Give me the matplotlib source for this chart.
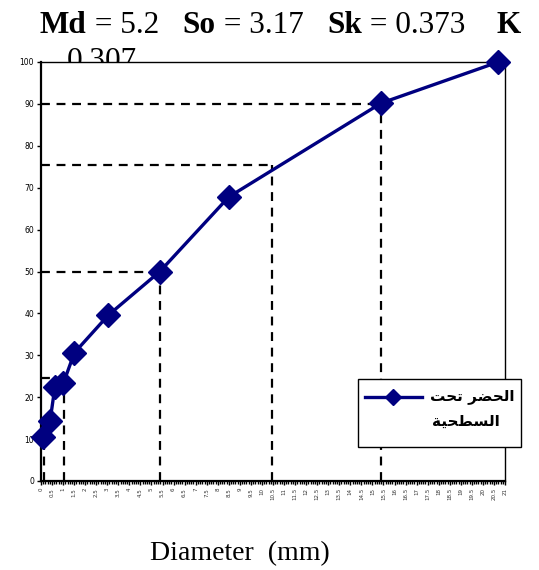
import numpy as np
import matplotlib
matplotlib.use("Agg")
import matplotlib.pyplot as plt
from matplotlib.ticker import MultipleLocator
from matplotlib.patches import Rectangle
from matplotlib.lines import Line2D
from matplotlib.transforms import Bbox, TransformedBbox

# cumulative grain size curve
diam = [0.10, 0.41, 0.63, 1.01, 1.51, 3.05, 5.38, 8.50, 15.40, 20.70]
cum_pct = [10.6, 14.3, 22.5, 23.3, 30.6, 39.6, 50.0, 67.8, 90.2, 100.0]

# percentile read-off lines (percent, diameter)
ref_pct = [24.5, 50.0, 75.5, 90.0]
ref_diam = [1.05, 5.38, 10.45, 15.40]
low_diam = 0.15
low_pct = 10.0

# legend label (Arabic, visual order with presentation forms)
line1 = "\uFE96\uFEA4\uFE97 \uFEAE\uFEC0\uFEA4\uFEDF\uFE8D"
line2 = "\uFE94\uFEF4\uFEA4\uFEC4\uFEB4\uFEDF\uFE8D"

W, H = 539, 570
fig = plt.figure(figsize=(W / 100, H / 100), dpi=100)
ax = fig.add_axes([41 / W, 1 - 481 / H, (505 - 41) / W, (481 - 62) / H])
ax.set_zorder(2)
ax.set_facecolor("white")

navy = "#000080"
dash = (0, (4, 3))
for p, d in zip(ref_pct, ref_diam):
    ax.plot([0, d], [p, p], color="black", lw=1.6, ls=dash, zorder=2)
    ax.plot([d, d], [0, p], color="black", lw=1.6, ls=dash, zorder=2)
ax.plot([low_diam, low_diam], [0, low_pct], color="black", lw=1.6, ls=dash, zorder=2)

ax.plot(diam, cum_pct, color=navy, lw=2.4, marker="D", markersize=12,
        zorder=3, clip_on=False)

ax.set_xlim(0, 21)
ax.set_ylim(0, 100)
ax.xaxis.set_minor_locator(MultipleLocator(0.1))
ax.yaxis.set_major_locator(MultipleLocator(10))
xt = np.arange(0, 21.01, 0.5)
ax.set_xticks(xt)
ax.set_xticklabels(["%g" % v for v in xt], rotation=90, fontsize=4, color="#333333")
ax.tick_params(axis="x", which="major", length=3, width=1, pad=2)
ax.tick_params(axis="x", which="minor", length=2, width=1)
ax.tick_params(axis="y", labelsize=5.5, length=3, width=1, pad=2)
for s in ax.spines.values():
    s.set_linewidth(1.0)
ax.spines["left"].set_linewidth(1.6)
ax.spines["bottom"].set_linewidth(1.6)

# legend box drawn by hand (it sticks out past the plot frame)
fig.add_artist(Rectangle((358 / W, 1 - 447 / H), 163 / W, 68 / H, transform=fig.transFigure,
                         facecolor="white", edgecolor="black", lw=1.0, zorder=5))
fig.add_artist(Line2D([365 / W, 422 / W], [1 - 397 / H] * 2, transform=fig.transFigure,
                      color=navy, lw=2.4, zorder=6))
fig.add_artist(Line2D([393 / W], [1 - 397 / H], transform=fig.transFigure, color=navy,
                      marker="D", markersize=8, lw=0, zorder=6))
fig.text(472 / W, 1 - 397 / H, line1, fontsize=11, fontweight="bold", family="DejaVu Sans",
         ha="center", va="center", zorder=6)
fig.text(466 / W, 1 - 421 / H, line2, fontsize=11, fontweight="bold", family="DejaVu Sans",
         ha="center", va="center", zorder=6)

# title pieces, bold names and regular values
pieces = [("Md", "bold"), (" = 5.2   ", "normal"), ("So", "bold"), (" = 3.17   ", "normal"),
          ("Sk", "bold"), (" = 0.373    ", "normal"), ("K", "bold")]
fig.canvas.draw()
r = fig.canvas.get_renderer()
x = 40
for s, w in pieces:
    t = fig.text(x / W, 1 - 33 / H, s, fontsize=22.5, fontweight=w, family="Liberation Serif",
                 va="baseline", ha="left", zorder=0)
    x += t.get_window_extent(r).width
t2 = fig.text(67 / W, 1 - 69 / H, "0.307", fontsize=22.5, family="Liberation Serif",
              va="baseline", ha="left", zorder=0)
t2.set_clip_box(TransformedBbox(Bbox([[0, 1 - 62 / H], [1, 1]]), fig.transFigure))
t2.set_clip_on(True)

fig.text(240 / W, 1 - 560 / H, "Diameter  (mm)", fontsize=20, family="Liberation Serif",
         ha="center", va="baseline")

fig.savefig("out.png", dpi=100)
